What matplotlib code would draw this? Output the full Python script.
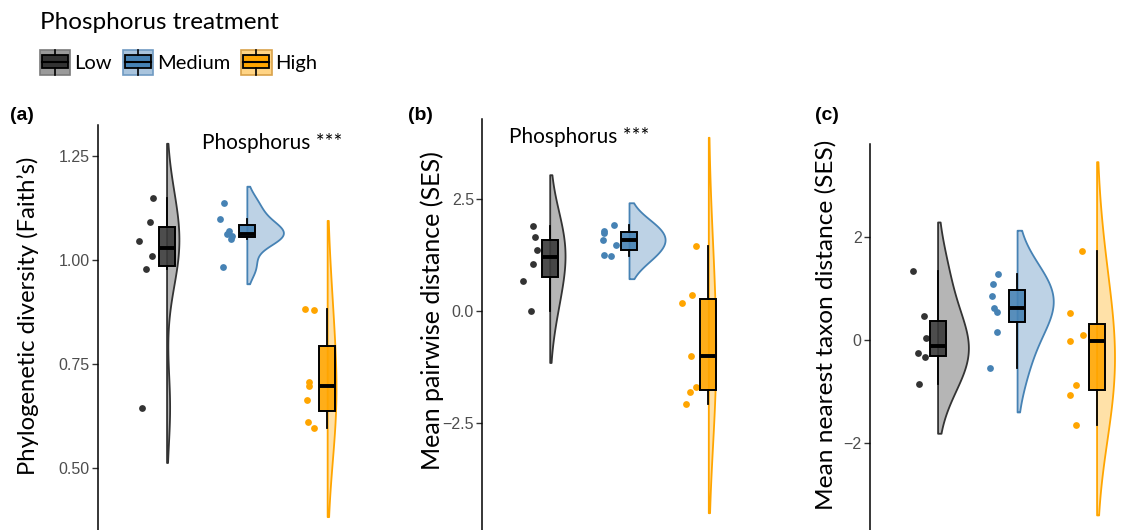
import numpy as np
import matplotlib
matplotlib.use('Agg')
import matplotlib.pyplot as plt
from matplotlib.patches import Rectangle
from matplotlib.lines import Line2D
from matplotlib.legend_handler import HandlerBase

groups = ['Low', 'Medium', 'High']

# (a) Faith's phylogenetic diversity
pd_low = [1.149, 1.091, 1.047, 1.010, 0.978, 0.645]
pd_med = [1.137, 1.099, 1.070, 1.064, 1.059, 1.050, 0.984]
pd_high = [0.882, 0.880, 0.707, 0.697, 0.663, 0.611, 0.596]
# (b) mean pairwise distance (SES)
mpd_low = [1.888, 1.651, 1.361, 1.056, 0.661, 0.007]
mpd_med = [1.919, 1.792, 1.747, 1.584, 1.479, 1.241, 1.219]
mpd_high = [1.442, 0.364, 0.170, -1.004, -1.696, -1.801, -2.062]
# (c) mean nearest taxon distance (SES)
mntd_low = [1.329, 0.459, 0.031, -0.267, -0.344, -0.864]
mntd_med = [1.277, 1.082, 0.849, 0.622, 0.545, 0.148, -0.558]
mntd_high = [1.712, 0.512, 0.084, -0.033, -0.876, -1.077, -1.661]

# horizontal jitter of the raw points
pd_jit = [[-0.17, -0.20, -0.34, -0.18, -0.26, -0.31],
          [-0.28, -0.33, -0.22, -0.25, -0.18, -0.20, -0.30],
          [-0.28, -0.17, -0.23, -0.23, -0.25, -0.24, -0.17]]
mpd_jit = [[-0.21, -0.19, -0.16, -0.21, -0.34, -0.23],
           [-0.19, -0.32, -0.32, -0.33, -0.16, -0.32, -0.23],
           [-0.16, -0.21, -0.33, -0.22, -0.16, -0.23, -0.28]]
mntd_jit = [[-0.31, -0.17, -0.15, -0.25, -0.16, -0.23],
            [-0.24, -0.30, -0.32, -0.29, -0.25, -0.25, -0.34],
            [-0.18, -0.34, -0.17, -0.33, -0.26, -0.33, -0.26]]

ylabels = ["Phylogenetic diversity (Faith\u2019s)",
           "Mean pairwise distance (SES)",
           "Mean nearest taxon distance (SES)"]
yticks = [[0.5, 0.75, 1.0, 1.25], [-2.5, 0.0, 2.5], [-2, 0, 2]]
yticklabels = [["0.50", "0.75", "1.00", "1.25"],
               ["\u22122.5", "0.0", "2.5"],
               ["\u22122", "0", "2"]]

dark = ['#333333', '#4682B4', '#FFA500']
light = ['#B5B5B5', '#BDD2E5', '#FFE1A8']
boxfill = ['#3a3a3a', '#4682B4', '#FFA500']

txt_font = 'Lato'
W, H = 1124, 530
fig = plt.figure(figsize=(W / 100, H / 100), dpi=100)


def kde(vals, adjust=2.0):
    # gaussian density, nrd0 bandwidth; range padded by 3 unadjusted bandwidths
    v = np.asarray(vals, dtype=float)
    n = len(v)
    q75, q25 = np.percentile(v, [75, 25])
    bw = 0.9 * min(v.std(ddof=1), (q75 - q25) / 1.34) * n ** -0.2
    grid = np.linspace(v.min() - 3 * bw, v.max() + 3 * bw, 512)
    h = bw * adjust
    dens = np.exp(-0.5 * ((grid[:, None] - v[None, :]) / h) ** 2).sum(1)
    return grid, dens / (n * h * np.sqrt(2 * np.pi))


def px_axes(left, top, right, bottom):
    return fig.add_axes([left / W, 1 - bottom / H, (right - left) / W, (bottom - top) / H])


panels = [
    dict(data=[pd_low, pd_med, pd_high], jit=pd_jit, box=(98.3, 124.6, 80.3, 535.3), tag='(a)', tagx=10,
         labx=28, labsize=17.2, note=(2.31, 1.282)),
    dict(data=[mpd_low, mpd_med, mpd_high], jit=mpd_jit, box=(482.3, 118.5, 79.3, 531.5), tag='(b)', tagx=408,
         labx=432, labsize=18.0, note=(1.37, 3.89)),
    dict(data=[mntd_low, mntd_med, mntd_high], jit=mntd_jit, box=(870, 144.0, 79.5, 532.6), tag='(c)', tagx=815,
         labx=826, labsize=17.6, note=None),
]

for i, p in enumerate(panels):
    left, top, step, bottom = p['box']
    xmin, xmax = 0.15, 3.85
    ax = px_axes(left, top, left + (xmax - xmin) * step, bottom)
    pos = [1, 2, 3]

    kdes = [kde(d) for d in p['data']]
    dmax = max(d.max() for _, d in kdes)
    for j, (grid, dens) in enumerate(kdes):
        ax.fill_betweenx(grid, pos[j], pos[j] + dens / dmax * 0.455, facecolor=light[j],
                         edgecolor=dark[j], lw=1.3, zorder=1)
        ax.scatter(np.array(p['jit'][j]) + pos[j], p['data'][j], s=24, color=dark[j],
                   linewidths=0, zorder=2)

    bp = ax.boxplot(p['data'], positions=pos, widths=0.2, patch_artist=True, showfliers=False,
                    showcaps=False, whis=1.5, manage_ticks=False,
                    boxprops=dict(edgecolor='black', lw=1.4),
                    whiskerprops=dict(color='black', lw=1.3),
                    medianprops=dict(color='black', lw=2.8))
    for j, b in enumerate(bp['boxes']):
        b.set_facecolor(matplotlib.colors.to_rgba(boxfill[j], 0.9))
        b.set_zorder(3)
    for w in bp['whiskers']:
        w.set_zorder(3)
    for m in bp['medians']:
        m.set_zorder(4)

    ylo = min(g.min() for g, _ in kdes)
    yhi = max(g.max() for g, _ in kdes)
    pad = 0.05 * (yhi - ylo)
    ax.set_ylim(ylo - pad, yhi + pad)
    ax.set_xlim(xmin, xmax)
    ax.set_yticks(yticks[i])
    ax.set_yticklabels(yticklabels[i], family='Liberation Sans', fontsize=11.5, color='#4D4D4D')
    ax.tick_params(axis='y', length=4, width=1, color='#333333', pad=2)
    ax.set_xticks([])
    for s in ['top', 'right', 'bottom']:
        ax.spines[s].set_visible(False)
    ax.spines['left'].set_linewidth(1.1)
    ax.set_ylabel(ylabels[i], family=txt_font, fontsize=p['labsize'])
    lab_frac = (p['labx'] - left) / ((xmax - xmin) * step)
    ax.yaxis.set_label_coords(lab_frac, 0.535)
    ax.yaxis.label.set_va('center')
    if p['note'] is not None:
        ax.text(p['note'][0], p['note'][1], 'Phosphorus ***', family=txt_font, fontsize=15,
                ha='center', va='center')
    fig.text(p['tagx'] / W, 1 - 115 / H, p['tag'], family='Liberation Sans', fontweight='bold',
             fontsize=14, ha='left', va='center')


class BoxKey:
    def __init__(self, fill, back, edge):
        self.fill, self.back, self.edge = fill, back, edge


class BoxKeyHandler(HandlerBase):
    def create_artists(self, legend, orig, xdescent, ydescent, width, height, fontsize, trans):
        x0, y0 = -xdescent, -ydescent
        bg = Rectangle((x0, y0), width, height, facecolor=orig.back, edgecolor=orig.edge,
                       lw=1.2, transform=trans)
        bx = Rectangle((x0 + 0.07 * width, y0 + 0.26 * height), 0.86 * width, 0.55 * height,
                       facecolor=orig.fill, edgecolor='black', lw=1.3, transform=trans)
        cx = x0 + width / 2
        w1 = Line2D([cx, cx], [y0, y0 + 0.26 * height], color='black', lw=1.2, transform=trans)
        w2 = Line2D([cx, cx], [y0 + 0.81 * height, y0 + height], color='black', lw=1.2, transform=trans)
        md = Line2D([x0 + 0.07 * width, x0 + 0.93 * width], [y0 + 0.53 * height] * 2, color='black',
                    lw=1.5, transform=trans)
        return [bg, bx, w1, w2, md]


keys = [BoxKey('#333333', '#9A9A9A', '#7A7A7A'),
        BoxKey('#4682B4', '#A9C4DD', '#6F9AC2'),
        BoxKey('#FFA500', '#FFD485', '#D9A24A')]
leg = fig.legend(keys, groups, handler_map={BoxKey: BoxKeyHandler()}, ncol=3,
                 title='Phosphorus treatment', loc='upper left',
                 bbox_to_anchor=(40 / W, 1 - 12 / H), frameon=False, borderpad=0,
                 borderaxespad=0, handlelength=1.5, handleheight=1.5, handletextpad=0.2,
                 columnspacing=0.55, labelspacing=0.85, prop=dict(family=txt_font, size=14.5),
                 title_fontproperties=dict(family=txt_font, size=17.5), alignment='left')

fig.savefig('out.png', dpi=100)
